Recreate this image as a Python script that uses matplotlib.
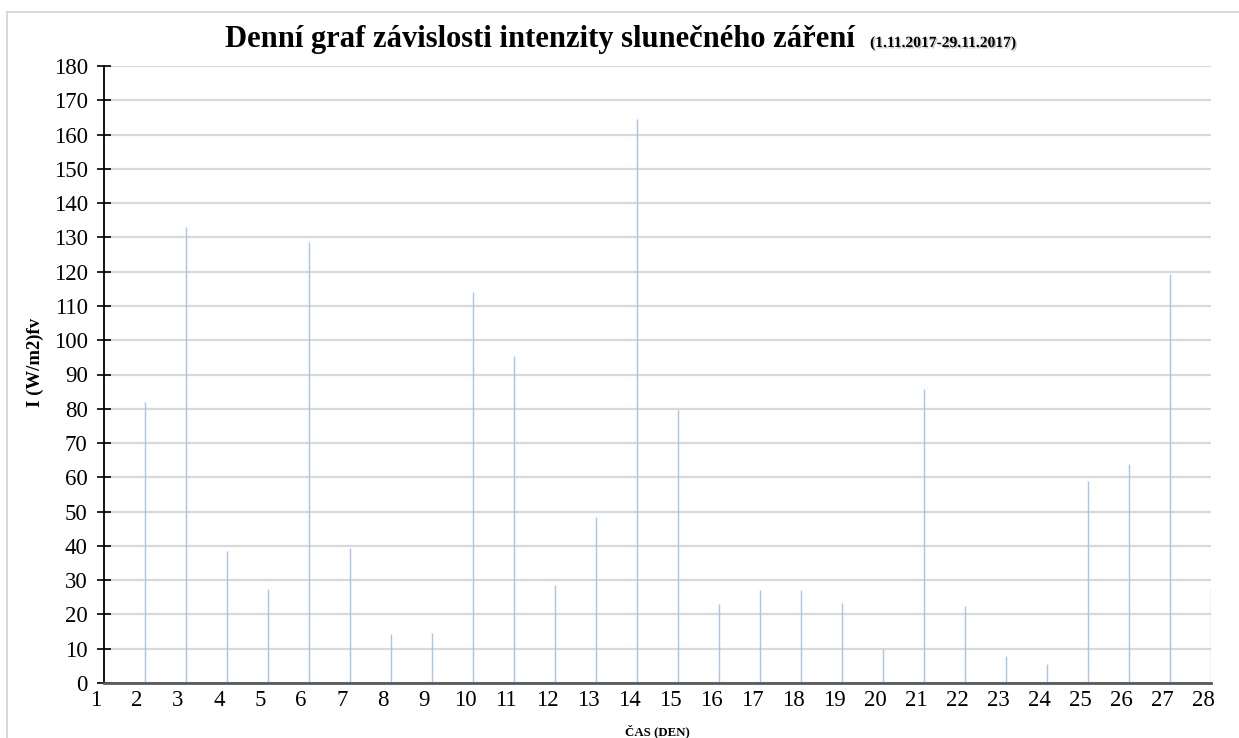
import matplotlib.pyplot as plt
import matplotlib.transforms as mtransforms
import matplotlib.patheffects as pe
from matplotlib.patches import Rectangle

# daily solar irradiance, November 2017
days = list(range(2, 29))
intensity = [82.0, 133.1, 38.5, 27.4, 128.7, 39.5, 14.3, 14.7, 114.0,
             95.5, 28.6, 48.4, 164.4, 79.6, 23.0, 27.1, 27.1, 23.4, 9.9,
             85.7, 22.6, 7.9, 5.6, 59.0, 63.9, 119.3, 27.7]
x_ticks = list(range(1, 29))
y_ticks = list(range(0, 181, 10))

plt.rcParams['font.family'] = ['Liberation Serif', 'DejaVu Serif']

fig = plt.figure(figsize=(12.39, 7.38), dpi=100)
W, H = 1239, 738
ax = fig.add_axes([104 / W, 1 - 683 / H, (1211 - 104) / W, (683 - 66) / H])

# light chart-area border
fig.patches.append(Rectangle((7 / W, -0.05), 1.1, 1 - 12 / H + 0.05,
                             transform=fig.transFigure, fill=False,
                             edgecolor='#d9d9d9', linewidth=1.5))

ax.vlines(days, 0, intensity, color='#a9c3ea', linewidth=1.0, zorder=3)

ax.set_xlim(1, 28)
ax.set_ylim(0, 180)
ax.set_xticks(x_ticks)
ax.set_xticklabels([str(d) for d in x_ticks])
ax.set_yticks(y_ticks)
ax.yaxis.grid(True, color='#d9d9d9', linewidth=1.6)
ax.set_axisbelow(True)

for side in ['top', 'right']:
    ax.spines[side].set_visible(False)
ax.spines['left'].set_color('black')
ax.spines['left'].set_linewidth(1.3)
ax.spines['bottom'].set_color('#595959')
ax.spines['bottom'].set_linewidth(2.0)
ax.spines['bottom'].set_zorder(4)

ax.tick_params(axis='y', direction='inout', length=9.4, width=1.2,
               color='black', labelsize=16.5, pad=7)
ax.tick_params(axis='x', length=0, labelsize=16.5, pad=5)

# x labels sit a little left of their day
shift = mtransforms.ScaledTranslation(-8 / 100, 0, fig.dpi_scale_trans)
for lab in ax.get_xticklabels():
    lab.set_transform(lab.get_transform() + shift)

fig.text(657 / W, 1 - 731 / H, 'ČAS (DEN)', fontsize=9.3,
         fontweight='bold', ha='center', va='center')
fig.text(35 / W, 1 - 362 / H, 'I (W/m2)fv', rotation=90, fontsize=13.5,
         fontweight='bold', ha='center', va='center')

fig.text(855 / W, 1 - 47 / H,
         'Denní graf závislosti intenzity slunečného záření',
         fontsize=22, fontweight='bold', ha='right', va='baseline')
fig.text(870 / W, 1 - 47 / H, '(1.11.2017-29.11.2017)',
         fontsize=11.2, fontweight='bold', ha='left', va='baseline',
         path_effects=[pe.withSimplePatchShadow(offset=(1, -1),
                                                shadow_rgbFace='#999999',
                                                alpha=0.6)])

fig.savefig('out.png', dpi=100)
